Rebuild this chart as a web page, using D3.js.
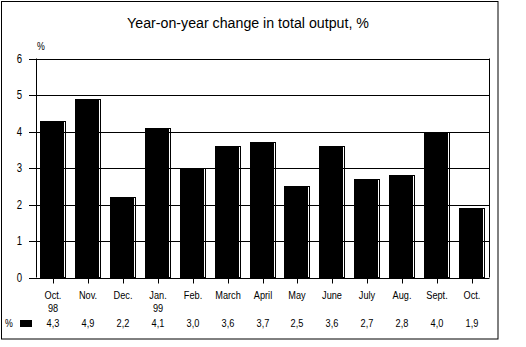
<!DOCTYPE html>
<html><head><meta charset="utf-8">
<script src="https://cdn.jsdelivr.net/npm/d3@7"></script>
<style>
body{margin:0;background:#fff;}
svg{display:block;}
text{font-family:"Liberation Sans",Arial,Helvetica,sans-serif;fill:#000;}
</style></head>
<body>
<svg id="c" width="526" height="347"></svg>
<script>
const categories = ["Oct.","Nov.","Dec.","Jan.","Feb.","March","April","May","June","July","Aug.","Sept.","Oct."];
const yearLabels = ["98","","","99","","","","","","","","",""];
const values = [4.3,4.9,2.2,4.1,3.0,3.6,3.7,2.5,3.6,2.7,2.8,4.0,1.9];
const yTicks = [0,1,2,3,4,5,6];
const title = "Year-on-year change in total output, %";

const svg = d3.select("#c");
const SX = 0.8; // narrow font look
const place = (sel, fx, fy, sx=SX) => sel.attr("transform",(d,i)=>`translate(${fx(d,i)},${fy(d,i)}) scale(${sx},1)`);

svg.append("rect").attr("x",1.5).attr("y",1.5).attr("width",496.5).attr("height",337.5)
  .attr("fill","none").attr("stroke","#000").attr("stroke-width",1);

const x = d3.scaleBand().domain(d3.range(categories.length)).range([35.5,489.5]);
const y = d3.scaleLinear().domain([0,6]).range([277.5,58.5]);
const cx = i => Math.round(x(i)+x.bandwidth()/2);

place(svg.append("text").attr("text-anchor","middle").style("font-size","14.5px").text(title), ()=>248, ()=>28, 0.98);

// gridlines
svg.selectAll("line.grid").data(yTicks).join("line")
  .attr("x1",29).attr("x2",489.5).attr("y1",d=>Math.round(y(d))+0.5).attr("y2",d=>Math.round(y(d))+0.5)
  .attr("stroke","#000").attr("stroke-width",1);
// axis & right border
svg.append("line").attr("x1",36.5).attr("x2",36.5).attr("y1",y(6)).attr("y2",y(0)).attr("stroke","#000");
svg.append("line").attr("x1",489.5).attr("x2",489.5).attr("y1",y(6)).attr("y2",y(0)).attr("stroke","#000");

// y tick labels
place(svg.selectAll("text.yl").data(yTicks).join("text")
  .attr("text-anchor","end").style("font-size","12px").text(d=>d), ()=>22, d=>y(d)+4);
place(svg.append("text").style("font-size","11px").text("%"), ()=>37, ()=>50);

// x ticks
svg.selectAll("line.xt").data(categories).join("line")
  .attr("x1",(d,i)=>cx(i)+0.5).attr("x2",(d,i)=>cx(i)+0.5)
  .attr("y1",y(0)).attr("y2",y(0)+6).attr("stroke","#000");

// bars: outline (shadow) then fill
svg.selectAll("rect.ol").data(values).join("rect")
  .attr("x",(d,i)=>cx(i)-12.5).attr("y",d=>Math.round(y(d))+0.5)
  .attr("width",25).attr("height",d=>Math.round(y(0))-Math.round(y(d))-1)
  .attr("fill","none").attr("stroke","#000").attr("stroke-width",1);
svg.selectAll("rect.bar").data(values).join("rect")
  .attr("x",(d,i)=>cx(i)-13).attr("y",d=>Math.round(y(d)))
  .attr("width",24).attr("height",d=>Math.round(y(0))-Math.round(y(d))-1)
  .attr("fill","#000");

// category labels
place(svg.selectAll("text.cat").data(categories).join("text")
  .attr("text-anchor","middle").style("font-size","11.5px").text(d=>d), (d,i)=>cx(i), ()=>299);
place(svg.selectAll("text.yr").data(yearLabels).join("text")
  .attr("text-anchor","middle").style("font-size","11.5px").text(d=>d), (d,i)=>cx(i), ()=>312);
place(svg.selectAll("text.val").data(values).join("text")
  .attr("text-anchor","middle").style("font-size","11.5px")
  .text(d=>d3.format(".1f")(d).replace(".",",")), (d,i)=>cx(i), ()=>327);
// legend
place(svg.append("text").style("font-size","11px").text("%"), ()=>5, ()=>327);
svg.append("rect").attr("x",20).attr("y",320).attr("width",12).attr("height",7).attr("fill","#000");
</script>
</body></html>
